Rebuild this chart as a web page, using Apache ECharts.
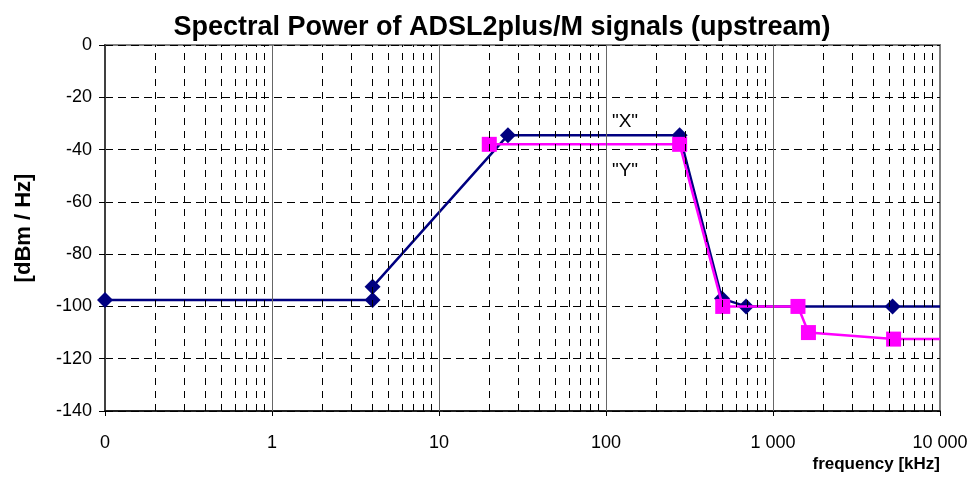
<!DOCTYPE html>
<html><head><meta charset="utf-8">
<script src="https://cdn.jsdelivr.net/npm/echarts@6/dist/echarts.min.js"></script>
<style>html,body{margin:0;padding:0;background:#fff}#c{width:975px;height:480px}</style>
</head><body><div id="c"></div>
<script>
// Data
const seriesXName = '"X"';
const seriesYName = '"Y"';
const seriesX = [[0.1,-97.5],[4,-97.5],[4,-92.5],[25.875,-34.5],[276,-34.5],[495,-97],[690,-100],[5200,-100],[10000,-100]];
const seriesY = [[20,-38],[276,-38],[500,-100],[1411,-100],[1630,-110],[5275,-112.5],[10000,-112.5]];
const xTickValues = [0.1,1,10,100,1000,10000];
const xTickLabels = ['0','1','10','100','1 000','10 000'];
const yMin = -140, yMax = 0, yStep = 20;
const decades = [0.1,1,10,100,1000];
const minorMultipliers = [2,3,4,5,6,7,8,9];
const labelXPos = [130,-29.5];
const labelYPos = [130,-48];

const minorLines = [];
decades.forEach(d => minorMultipliers.forEach(m => minorLines.push({xAxis: +(d*m).toPrecision(6)})));
const majorLines = [1,10,100,1000].map(v => ({xAxis: v}));

const font = '"Liberation Sans", Arial, sans-serif';
const chart = echarts.init(document.getElementById('c'), null, {renderer:'canvas'});
function lastNoSymbol(arr){
  return arr.map((p,i)=> i===arr.length-1 ? {value:p, symbol:'none'} : p);
}
function textPoint(coord, txt){
  return {coord:coord, symbol:'circle', symbolSize:1, itemStyle:{color:'rgba(0,0,0,0)'},
    label:{show:true, position:'inside', formatter:txt, fontFamily:font, fontSize:19, color:'#000'}};
}
chart.setOption({
  animation:false,
  title:{text:'Spectral Power of ADSL2plus/M signals (upstream)', left:497, textAlign:'center', top:9,
    textStyle:{fontFamily:font, fontSize:27, fontWeight:'bold', color:'#000'}},
  grid:{left:105, right:35, top:45, bottom:69, show:true, borderColor:'#808080', borderWidth:2, backgroundColor:'#fff'},
  xAxis:{type:'log', logBase:10, min:0.1, max:10000,
    axisLine:{show:true, onZero:false, lineStyle:{color:'#000', width:1.5}},
    axisTick:{show:true, length:5, lineStyle:{color:'#000'}},
    axisLabel:{margin:23, fontFamily:font, fontSize:18, color:'#000',
      formatter:v=>{const i=xTickValues.findIndex(t=>Math.abs(Math.log10(t)-Math.log10(v))<1e-6); return i>=0?xTickLabels[i]:'';}},
    splitLine:{show:false}
  },
  yAxis:{type:'value', min:yMin, max:yMax, interval:yStep,
    name:'[dBm / Hz]', nameLocation:'middle', nameGap:70, nameRotate:90,
    nameTextStyle:{fontFamily:font, fontSize:22, fontWeight:'bold', color:'#000'},
    axisLine:{show:true, onZero:false, lineStyle:{color:'#404040', width:2}},
    axisTick:{show:true, length:6, lineStyle:{color:'#000'}},
    axisLabel:{margin:13, fontFamily:font, fontSize:18, color:'#000'},
    splitLine:{show:true, lineStyle:{color:'#000', type:[8,5], width:1}}
  },
  graphic:[{type:'text', right:35, top:456, style:{text:'frequency [kHz]', font:'bold 17px '+font, fill:'#000'}}],
  series:[
    {type:'line', data:[], silent:true, markLine:{silent:true, symbol:'none', label:{show:false},
      lineStyle:{color:'#000', type:[7,6], width:1}, data:minorLines, animation:false}},
    {type:'line', data:[], silent:true, markLine:{silent:true, symbol:'none', label:{show:false},
      lineStyle:{color:'#666', type:'solid', width:1}, data:majorLines, animation:false}},
    {name:seriesXName, type:'line', data:lastNoSymbol(seriesX), symbol:'diamond', symbolSize:16,
      lineStyle:{color:'#000080', width:2.5}, itemStyle:{color:'#000080'}, z:3,
      markPoint:{data:[textPoint(labelXPos, seriesXName)]}},
    {name:seriesYName, type:'line', data:lastNoSymbol(seriesY), symbol:'rect', symbolSize:15,
      lineStyle:{color:'#FF00FF', width:2.5}, itemStyle:{color:'#FF00FF'}, z:4,
      markPoint:{data:[textPoint(labelYPos, seriesYName)]}}
  ]
});
</script></body></html>
